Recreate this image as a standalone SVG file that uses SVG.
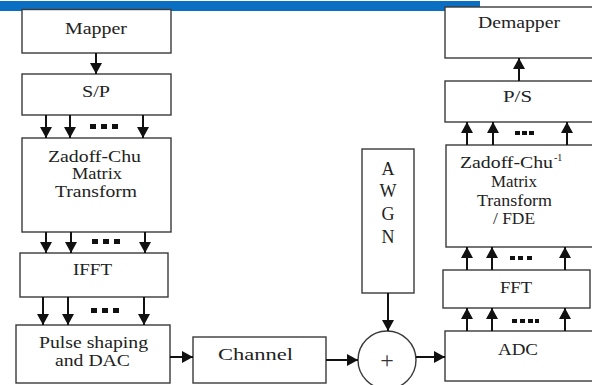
<svg xmlns="http://www.w3.org/2000/svg" width="592" height="385" viewBox="0 0 592 385">
<style>
.box{fill:#fff;stroke:#3a3a3a;stroke-width:1.4}
.t{font-family:'Liberation Serif','DejaVu Serif','Times New Roman',Times,serif;font-size:16px;fill:#222}
.a{font-family:'Liberation Serif','DejaVu Serif','Times New Roman',Times,serif;font-size:18px;fill:#222}
.c{stroke:#111;stroke-width:2;fill:none}
.d{fill:#111}
</style>
<defs>
<marker id="ah" markerUnits="userSpaceOnUse" markerWidth="12" markerHeight="12" viewBox="0 0 12 12" refX="11" refY="6" orient="auto">
<path d="M0,0 L11,6 L0,12 Z" fill="#111"/>
</marker>
</defs>
<rect x="0" y="1" width="480" height="10" fill="#0A6FC2"/>

<g id="mapper"><rect class="box" x="22" y="9.5" width="149" height="43.5"/><text class="t" x="65" y="34" textLength="62" lengthAdjust="spacingAndGlyphs">Mapper</text></g>
<g id="sp"><rect class="box" x="22" y="74" width="149" height="41"/><text class="t" x="82" y="97" textLength="28" lengthAdjust="spacingAndGlyphs">S/P</text></g>
<g id="zc"><rect class="box" x="22" y="138" width="149" height="94"/>
<text class="t" x="48" y="162" textLength="93" lengthAdjust="spacingAndGlyphs">Zadoff-Chu</text>
<text class="t" x="72" y="179" textLength="50" lengthAdjust="spacingAndGlyphs">Matrix</text>
<text class="t" x="55" y="197" textLength="82" lengthAdjust="spacingAndGlyphs">Transform</text></g>
<g id="ifft"><rect class="box" x="20" y="253" width="148" height="44"/><text class="t" x="73" y="275" textLength="39" lengthAdjust="spacingAndGlyphs">IFFT</text></g>
<g id="pulse"><rect class="box" x="16" y="325" width="154" height="58"/>
<text class="t" x="39" y="348" textLength="109" lengthAdjust="spacingAndGlyphs">Pulse shaping</text>
<text class="t" x="55" y="366" textLength="75" lengthAdjust="spacingAndGlyphs">and DAC</text></g>
<g id="channel"><rect class="box" x="193" y="337" width="133" height="46"/><text class="t" x="218" y="360" textLength="75" lengthAdjust="spacingAndGlyphs">Channel</text></g>
<g id="awgn"><rect class="box" x="362" y="149" width="52" height="144"/>
<text class="a" x="388" y="175" text-anchor="middle">A</text>
<text class="a" x="388" y="197" text-anchor="middle">W</text>
<text class="a" x="388" y="220" text-anchor="middle">G</text>
<text class="a" x="388" y="243" text-anchor="middle">N</text></g>
<g id="adder"><circle cx="387" cy="360" r="29" fill="#fff" stroke="#3a3a3a" stroke-width="1.4"/><text class="t" x="387" y="368" text-anchor="middle" style="font-size:24px;fill:#333">+</text></g>
<g id="adc"><rect class="box" x="445" y="331" width="160" height="50"/><text class="t" x="498" y="355" textLength="40" lengthAdjust="spacingAndGlyphs">ADC</text></g>
<g id="fft"><rect class="box" x="443" y="270" width="147" height="38"/><text class="t" x="500" y="293" textLength="32" lengthAdjust="spacingAndGlyphs">FFT</text></g>
<g id="zci"><rect class="box" x="446" y="145" width="160" height="102"/>
<text class="t" x="460" y="168" textLength="93" lengthAdjust="spacingAndGlyphs">Zadoff-Chu</text>
<text class="t" x="554" y="161" style="font-size:10px">-1</text>
<text class="t" x="491" y="187" textLength="46" lengthAdjust="spacingAndGlyphs">Matrix</text>
<text class="t" x="477" y="206" textLength="75" lengthAdjust="spacingAndGlyphs">Transform</text>
<text class="t" x="493" y="224" textLength="42" lengthAdjust="spacingAndGlyphs">/ FDE</text></g>
<g id="ps"><rect class="box" x="445" y="81" width="160" height="41"/><text class="t" x="503" y="102" textLength="29" lengthAdjust="spacingAndGlyphs">P/S</text></g>
<g id="demapper"><rect class="box" x="445" y="7" width="160" height="51"/><text class="t" x="478" y="28" textLength="82" lengthAdjust="spacingAndGlyphs">Demapper</text></g>

<g id="connectors">
<line class="c" x1="96" y1="53" x2="96" y2="74" marker-end="url(#ah)"/>
<line class="c" x1="46" y1="115" x2="46" y2="138" marker-end="url(#ah)"/>
<line class="c" x1="70" y1="115" x2="70" y2="138" marker-end="url(#ah)"/>
<line class="c" x1="143" y1="115" x2="143" y2="138" marker-end="url(#ah)"/>
<line class="c" x1="46" y1="232" x2="46" y2="253" marker-end="url(#ah)"/>
<line class="c" x1="71" y1="232" x2="71" y2="253" marker-end="url(#ah)"/>
<line class="c" x1="145" y1="232" x2="145" y2="253" marker-end="url(#ah)"/>
<line class="c" x1="43" y1="297" x2="43" y2="325" marker-end="url(#ah)"/>
<line class="c" x1="68" y1="297" x2="68" y2="325" marker-end="url(#ah)"/>
<line class="c" x1="144" y1="297" x2="144" y2="325" marker-end="url(#ah)"/>
<line class="c" x1="170" y1="357" x2="193" y2="357" marker-end="url(#ah)"/>
<line class="c" x1="326" y1="360" x2="358" y2="360" marker-end="url(#ah)"/>
<line class="c" x1="388" y1="293" x2="388" y2="331" marker-end="url(#ah)"/>
<line class="c" x1="416" y1="357" x2="445" y2="357" marker-end="url(#ah)"/>
<line class="c" x1="467" y1="331" x2="467" y2="308" marker-end="url(#ah)"/>
<line class="c" x1="492" y1="331" x2="492" y2="308" marker-end="url(#ah)"/>
<line class="c" x1="565" y1="331" x2="565" y2="308" marker-end="url(#ah)"/>
<line class="c" x1="467" y1="270" x2="467" y2="247" marker-end="url(#ah)"/>
<line class="c" x1="492" y1="270" x2="492" y2="247" marker-end="url(#ah)"/>
<line class="c" x1="565" y1="270" x2="565" y2="247" marker-end="url(#ah)"/>
<line class="c" x1="467" y1="145" x2="467" y2="122" marker-end="url(#ah)"/>
<line class="c" x1="493" y1="145" x2="493" y2="122" marker-end="url(#ah)"/>
<line class="c" x1="567" y1="145" x2="567" y2="122" marker-end="url(#ah)"/>
<line class="c" x1="519" y1="81" x2="519" y2="58" marker-end="url(#ah)"/>
<g class="d">
<rect x="90" y="124" width="6" height="5"/><rect x="101" y="124" width="6" height="5"/><rect x="112" y="124" width="6" height="5"/>
<rect x="92" y="239" width="6" height="5"/><rect x="103" y="239" width="6" height="5"/><rect x="114" y="239" width="6" height="5"/>
<rect x="91" y="308" width="6" height="5"/><rect x="102" y="308" width="6" height="5"/><rect x="113" y="308" width="6" height="5"/>
<rect x="515" y="131" width="5" height="4"/><rect x="522" y="131" width="5" height="4"/><rect x="529" y="131" width="5" height="4"/>
<rect x="510" y="256" width="5" height="4"/><rect x="518" y="256" width="5" height="4"/><rect x="527" y="256" width="5" height="4"/>
<rect x="512" y="319" width="5" height="4"/><rect x="520" y="319" width="5" height="4"/><rect x="528" y="319" width="5" height="4"/><rect x="535" y="319" width="4" height="4"/>
</g>
</g>
</svg>
